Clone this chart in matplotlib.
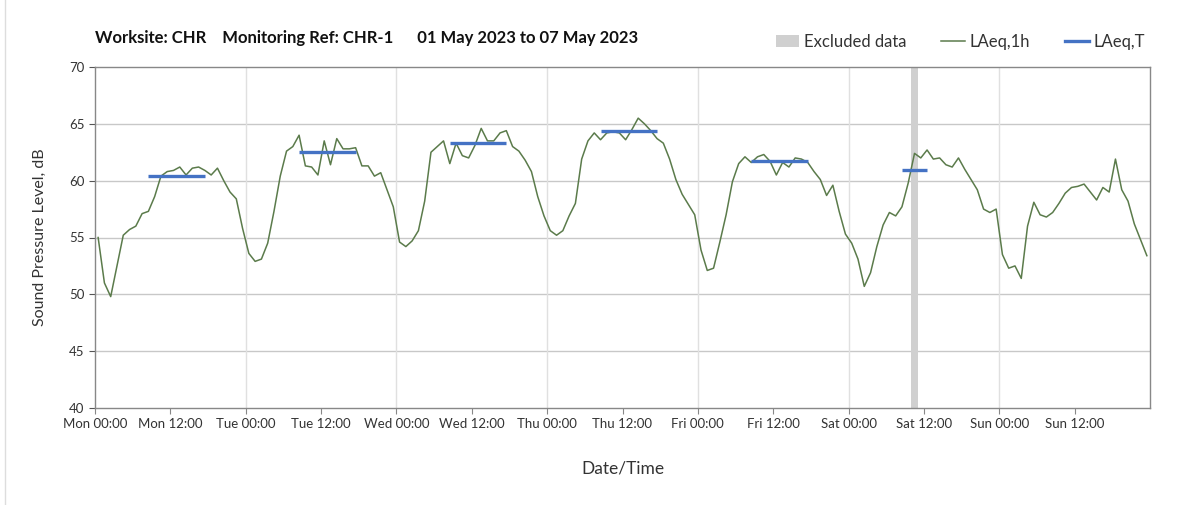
import matplotlib
matplotlib.use('Agg')
import matplotlib.pyplot as plt
from matplotlib.lines import Line2D
from matplotlib.patches import Patch

plt.rcParams['font.family'] = ['Lato', 'DejaVu Sans']

# hourly LAeq,1h values, Mon 00:00 to Sun 23:00 (plotted at the middle of each hour)
laeq_1h = [
    55.0, 51.0, 49.8, 52.5, 55.2, 55.7, 56.0, 57.1, 57.3, 58.6, 60.4, 60.8,
    60.9, 61.2, 60.5, 61.1, 61.2, 60.9, 60.5, 61.1, 60.0, 59.0, 58.4, 55.8,
    53.6, 52.9, 53.1, 54.5, 57.3, 60.4, 62.6, 63.0, 64.0, 61.3, 61.2, 60.5,
    63.5, 61.4, 63.7, 62.8, 62.8, 62.9, 61.3, 61.3, 60.4, 60.7, 59.2, 57.7,
    54.6, 54.2, 54.7, 55.6, 58.2, 62.5, 63.0, 63.5, 61.5, 63.3, 62.2, 62.0,
    63.1, 64.6, 63.5, 63.5, 64.2, 64.4, 63.0, 62.6, 61.8, 60.8, 58.6, 56.9,
    55.6, 55.2, 55.6, 56.9, 58.0, 61.9, 63.5, 64.2, 63.6, 64.2, 64.3, 64.2,
    63.6, 64.5, 65.5, 65.0, 64.4, 63.7, 63.3, 61.9, 60.1, 58.8, 57.9, 57.0,
    53.9, 52.1, 52.3, 54.6, 57.0, 59.9, 61.5, 62.1, 61.6, 62.1, 62.3, 61.7,
    60.5, 61.6, 61.2, 62.0, 61.9, 61.6, 60.8, 60.1, 58.7, 59.6, 57.3, 55.3,
    54.5, 53.1, 50.7, 51.9, 54.2, 56.1, 57.2, 56.9, 57.7, 59.8, 62.4, 62.0,
    62.7, 61.9, 62.0, 61.4, 61.2, 62.0, 61.0, 60.1, 59.2, 57.5, 57.2, 57.5,
    53.5, 52.3, 52.5, 51.4, 56.0, 58.1, 57.0, 56.8, 57.2, 58.0, 58.9, 59.4,
    59.5, 59.7, 59.0, 58.3, 59.4, 59.0, 61.9, 59.2, 58.2, 56.2, 54.8, 53.4,
]

# LAeq,T periods: start hour, end hour (hours from Mon 00:00), level
laeq_t_start = [8.5, 32.5, 56.5, 80.5, 104.5, 128.5]
laeq_t_end = [17.5, 41.5, 65.5, 89.5, 113.5, 132.5]
laeq_t_value = [60.4, 62.5, 63.3, 64.4, 61.7, 60.9]

# excluded data period (hours)
excl_start = 130
excl_end = 131

days = ['Mon', 'Tue', 'Wed', 'Thu', 'Fri', 'Sat', 'Sun']
tick_labels = []
for d in days:
    tick_labels += [d + ' 00:00', d + ' 12:00']

hours = [i + 0.5 for i in range(len(laeq_1h))]

fig = plt.figure(figsize=(12.03, 5.05), dpi=100)
ax = fig.add_axes([95 / 1203, 97 / 505, 1055 / 1203, 341 / 505])

ax.axvspan(excl_start, excl_end, color='#d0d0d0', lw=0, zorder=1)
ax.plot(hours, laeq_1h, color='#5b7b4b', lw=1.1, zorder=3)
for s, e, v in zip(laeq_t_start, laeq_t_end, laeq_t_value):
    ax.plot([s, e], [v, v], color='#4472c4', lw=2.4, solid_capstyle='butt', zorder=4)

ax.set_xlim(0, 168)
ax.set_ylim(40, 70)
ax.set_xticks(range(0, 168, 12))
ax.set_xticklabels(tick_labels, fontsize=9.5, color='#333333')
ax.set_yticks(range(40, 71, 5))
ax.tick_params(axis='y', labelsize=9.5, colors='#555555', length=4, labelcolor='#333333')
ax.tick_params(axis='x', length=4, colors='#888888', labelcolor='#333333')

for y in range(45, 70, 5):
    ax.axhline(y, color='#c8c8c8', lw=1, zorder=0)
for x in range(24, 168, 24):
    ax.axvline(x, color='#e0e0e0', lw=1, zorder=0)

for sp in ax.spines.values():
    sp.set_color('#888888')
    sp.set_linewidth(1)

ax.set_ylabel('Sound Pressure Level, dB', fontsize=11.5, color='#333333', labelpad=16)
ax.set_xlabel('Date/Time', fontsize=12.5, color='#333333', labelpad=22)

fig.text(95 / 1203, 1 - 38 / 505,
         'Worksite: CHR    Monitoring Ref: CHR-1      01 May 2023 to 07 May 2023',
         fontsize=12, fontweight='bold', va='center', ha='left', color='#111111')

handles = [Patch(facecolor='#d0d0d0', edgecolor='none'),
           Line2D([], [], color='#5b7b4b', lw=1.1),
           Line2D([], [], color='#4472c4', lw=2.4)]
fig.legend(handles, ['Excluded data', 'LAeq,1h', 'LAeq,T'], ncol=3, frameon=False,
           loc='center right', bbox_to_anchor=(1160 / 1203, 1 - 42 / 505),
           fontsize=12, handlelength=1.4, handletextpad=0.3, columnspacing=2.1,
           labelcolor='#333333')

fig.add_artist(Line2D([5 / 1203, 5 / 1203], [0, 1], color='#dddddd', lw=1))

fig.savefig('out.png', dpi=100)
